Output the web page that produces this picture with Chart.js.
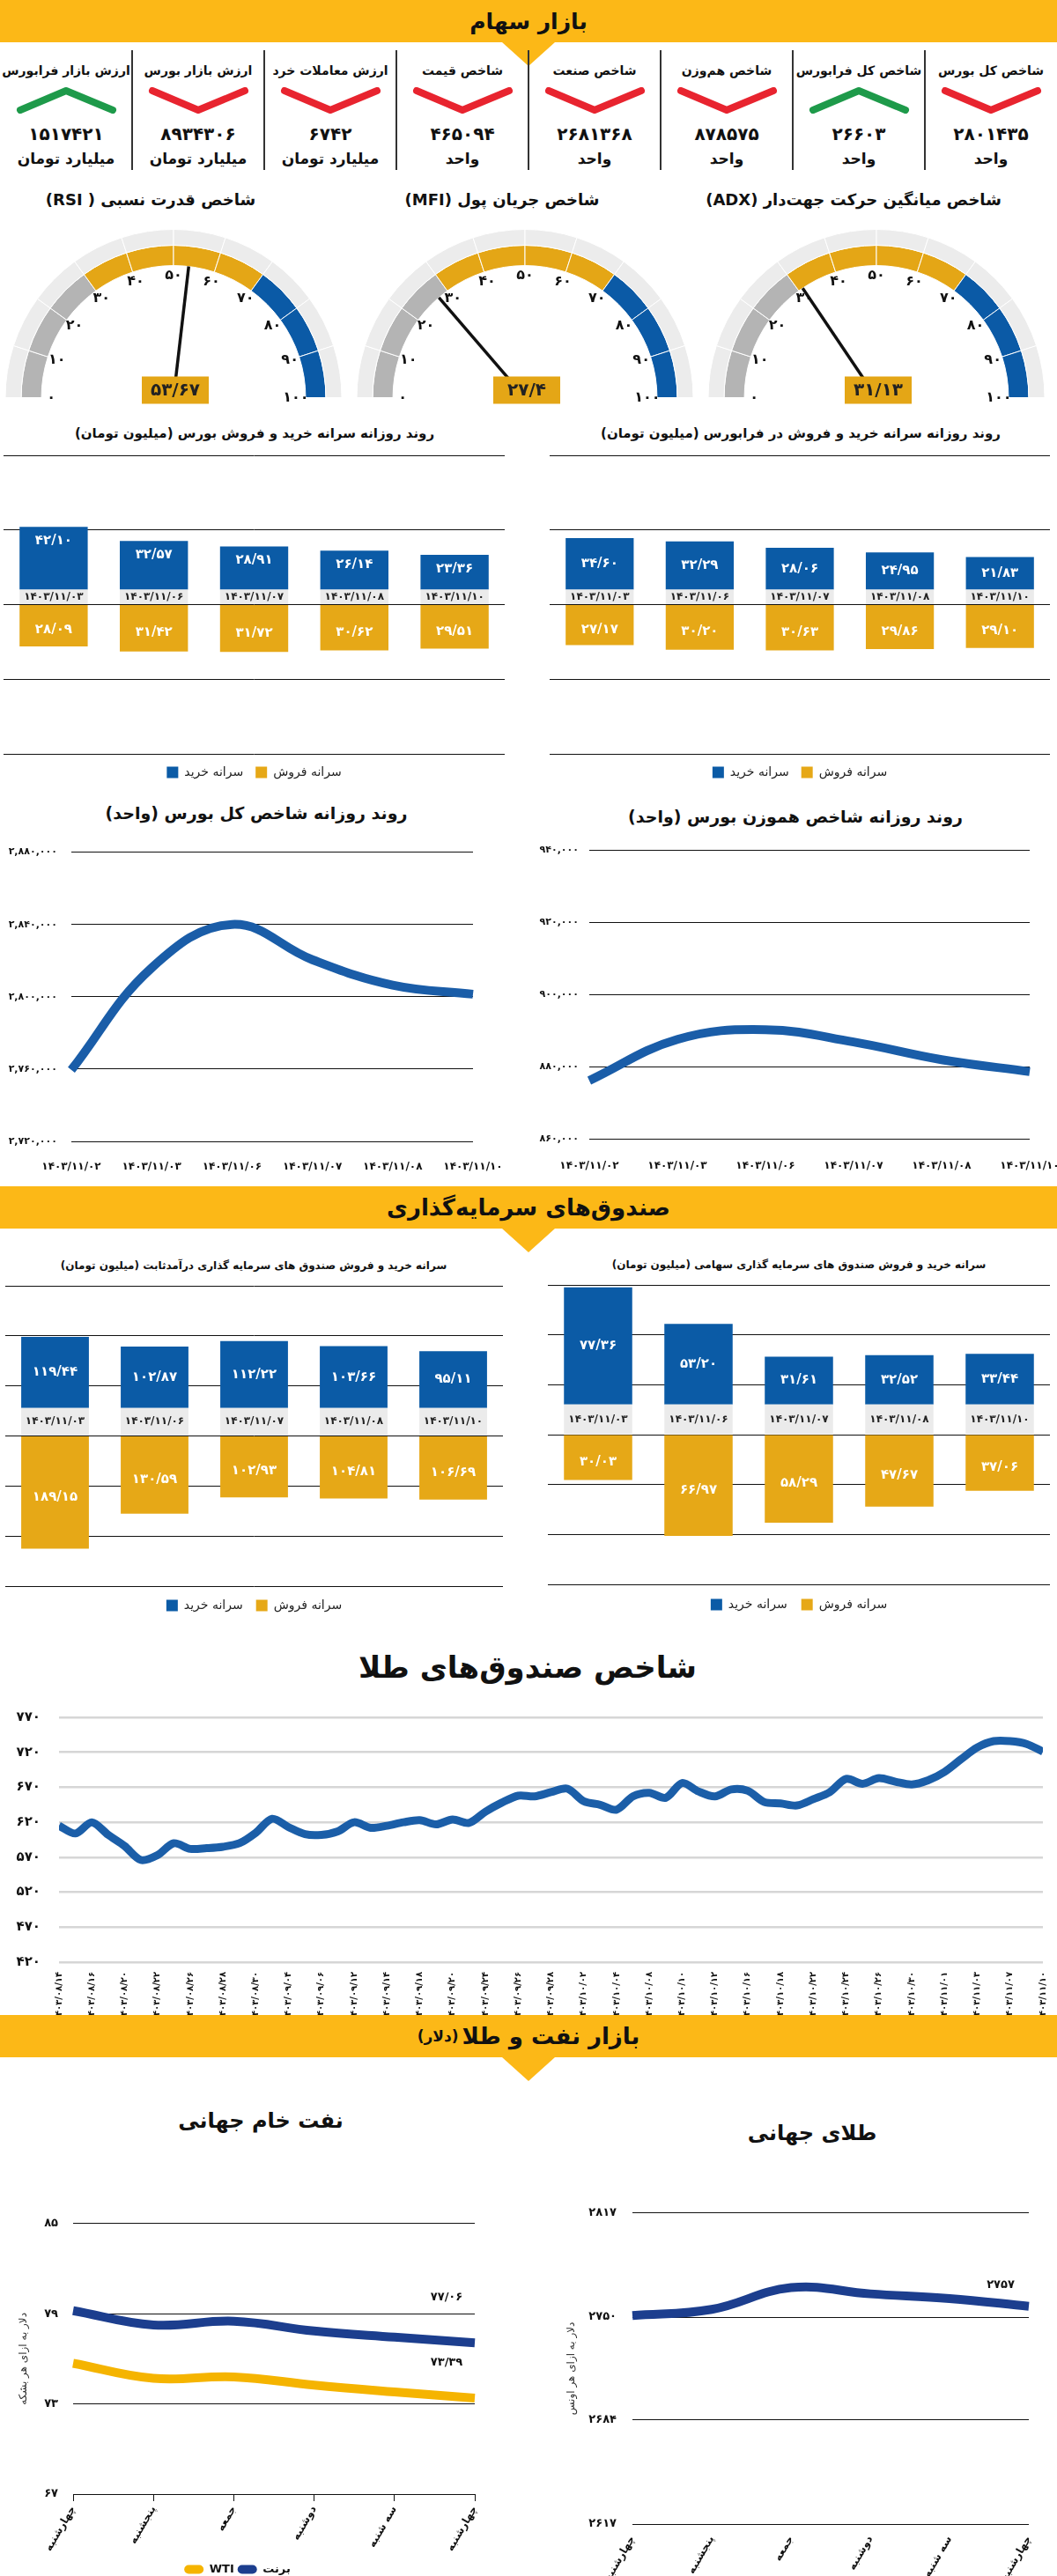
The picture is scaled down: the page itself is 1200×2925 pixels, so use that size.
<!DOCTYPE html>
<html lang="fa">
<head>
<meta charset="utf-8">
<title>بازار سهام</title>
<script src="https://cdn.jsdelivr.net/npm/chart.js@4.4.1/dist/chart.umd.min.js"></script>
<style>
body { margin: 0; background: #fff; }
#page { position: relative; width: 1200px; height: 2925px; overflow: hidden; font-family: 'DejaVu Sans', sans-serif; color: #111; }
.band { position: absolute; left: 0; width: 1200px; height: 48px; background: #fcb817; }
.band div { position: absolute; inset: 0; display: flex; align-items: center; justify-content: center; font-weight: bold; direction: rtl; white-space: nowrap; }
.notch { position: absolute; width: 0; height: 0; border-left: 30px solid transparent; border-right: 30px solid transparent; border-top: 27px solid #fcb817; }
.t { position: absolute; transform: translate(-50%, -50%); white-space: nowrap; direction: rtl; font-weight: bold; line-height: 1.2; }
.card { position: absolute; top: 57px; width: 150px; height: 136px; }
.card .c { position: absolute; left: 0; right: 0; text-align: center; transform: translateY(-50%); font-weight: bold; direction: rtl; white-space: nowrap; line-height: 1.2; }
.sep { position: absolute; top: 57px; width: 2px; height: 136px; background: #333; }
canvas { position: absolute; }
</style>
</head>
<body>
<div id="page"></div>
<script>
// ---- داده‌ها ----
const cardTitles = ['ارزش بازار فرابورس', 'ارزش بازار بورس', 'ارزش معاملات خرد', 'شاخص قیمت', 'شاخص صنعت', 'شاخص هم‌وزن', 'شاخص کل فرابورس', 'شاخص کل بورس'];
const cardValues = [1517421, 8934306, 6742, 465094, 2681368, 878575, 26603, 2801435];
const cardUnits = ['میلیارد تومان', 'میلیارد تومان', 'میلیارد تومان', 'واحد', 'واحد', 'واحد', 'واحد', 'واحد'];
const cardTrend = ['up', 'down', 'down', 'down', 'down', 'down', 'up', 'down'];

const gaugeNames = ['شاخص قدرت نسبی ( RSI)', 'شاخص جریان پول (MFI)', 'شاخص میانگین حرکت جهت‌دار (ADX)'];
const gaugeValues = [53.67, 27.4, 31.13];
const gaugeSegments = [10, 10, 10, 10, 10, 10, 10, 10, 10, 10];
const gaugeTicks = [0, 10, 20, 30, 40, 50, 60, 70, 80, 90, 100];

const tradeDates = ['1403/11/03', '1403/11/06', '1403/11/07', '1403/11/08', '1403/11/10'];
const bourseBuy = [42.10, 32.57, 28.91, 26.14, 23.36];
const bourseSell = [28.09, 31.42, 31.72, 30.62, 29.51];
const faraBuy = [34.60, 32.29, 28.06, 24.95, 21.83];
const faraSell = [27.17, 30.20, 30.63, 29.86, 29.10];
const fixedBuy = [119.44, 102.87, 112.22, 103.66, 95.11];
const fixedSell = [189.15, 130.59, 102.93, 104.81, 106.69];
const equityBuy = [77.36, 53.20, 31.61, 32.52, 33.44];
const equitySell = [30.03, 66.97, 58.29, 47.67, 37.06];

const indexDates = ['1403/11/02', '1403/11/03', '1403/11/06', '1403/11/07', '1403/11/08', '1403/11/10'];
const totalIndex = [2759500, 2816000, 2840000, 2820500, 2806400, 2801435];
const totalTicks = [2720000, 2760000, 2800000, 2840000, 2880000];
const equalIndex = [876100, 887500, 890200, 886800, 881900, 878575];
const equalTicks = [860000, 880000, 900000, 920000, 940000];

const goldFundDates = ['1403/08/14', '1403/08/16', '1403/08/20', '1403/08/22', '1403/08/26', '1403/08/28', '1403/08/30',
  '1403/09/04', '1403/09/06', '1403/09/12', '1403/09/14', '1403/09/18', '1403/09/20', '1403/09/24', '1403/09/26', '1403/09/28',
  '1403/10/02', '1403/10/04', '1403/10/08', '1403/10/10', '1403/10/12', '1403/10/16', '1403/10/18', '1403/10/22', '1403/10/24',
  '1403/10/26', '1403/10/30', '1403/11/01', '1403/11/03', '1403/11/07', '1403/11/10'];
const goldFundValues = [615, 604, 620, 602, 586, 566, 573, 590, 582, 583,
  585, 590, 605, 625, 613, 603, 602, 607, 620, 612,
  615, 620, 623, 617, 624, 619, 635, 648, 658, 657,
  663, 668, 650, 645, 638, 657, 662, 655, 676, 664,
  657, 667, 665, 649, 647, 644, 653, 663, 682, 675,
  683, 678, 674, 680, 692, 710, 727, 736, 736, 732, 721];
const goldFundTicks = [420, 470, 520, 570, 620, 670, 720, 770];

const weekDays = ['چهارشنبه', 'پنجشنبه', 'جمعه', 'دوشنبه', 'سه شنبه', 'چهارشنبه'];
const wti = [75.70, 74.70, 74.80, 74.25, 73.80, 73.39];
const brent = [79.20, 78.25, 78.50, 77.85, 77.44, 77.06];
const oilTicks = [67, 73, 79, 85];
const goldWorld = [2751, 2755, 2769, 2765, 2762, 2757];
const goldWorldTicks = [2617, 2684, 2750, 2817];

// ---- ابزار ----
const FONT = "'DejaVu Sans', sans-serif";
const BLUE = '#0b5ba6';
const GOLD = '#e6a817';
const NAVY = '#1c3e8e';
const faDigits = '۰۱۲۳۴۵۶۷۸۹';
const fa = s => String(s).replace(/[0-9]/g, d => faDigits[d]);
const faDec = v => fa(v.toFixed(2)).replace('.', '/');

Chart.defaults.font.family = FONT;
Chart.defaults.color = '#111';
Chart.defaults.animation = false;
Chart.defaults.responsive = false;
Chart.defaults.events = [];
Chart.defaults.plugins.tooltip.enabled = false;

const page = document.getElementById('page');

function addText(str, x, y, size) {
  const d = document.createElement('div');
  d.className = 't';
  d.style.left = x + 'px';
  d.style.top = y + 'px';
  d.style.fontSize = size + 'px';
  d.innerHTML = str;
  page.appendChild(d);
}

function addCanvas(left, top, w, h) {
  const c = document.createElement('canvas');
  c.width = w; c.height = h;
  c.style.left = left + 'px'; c.style.top = top + 'px';
  c.style.width = w + 'px'; c.style.height = h + 'px';
  page.appendChild(c);
  return c;
}

function band(top, html) {
  const b = document.createElement('div');
  b.className = 'band';
  b.style.top = top + 'px';
  b.innerHTML = `<div>${html}</div>`;
  page.appendChild(b);
  const n = document.createElement('div');
  n.className = 'notch';
  n.style.left = '570px';
  n.style.top = (top + 48) + 'px';
  page.appendChild(n);
}

// ---- سربرگ و کارت‌ها ----
band(0, '<span style="font-size:25px">بازار سهام</span>');

cardTitles.forEach((t, i) => {
  const up = cardTrend[i] === 'up';
  const pts = up ? '5,26 57,4 110,26' : '5,4 57,26 110,4';
  const col = up ? '#1e9a4a' : '#e8242f';
  const d = document.createElement('div');
  d.className = 'card';
  d.style.left = (i * 150) + 'px';
  d.innerHTML = `
    <div class="c" style="top:23px;font-size:14px">${t}</div>
    <svg width="115" height="30" style="position:absolute;left:18px;top:42px">
      <polyline points="${pts}" fill="none" stroke="${col}" stroke-width="8" stroke-linecap="round" stroke-linejoin="round"/>
    </svg>
    <div class="c" style="top:95px;font-size:20px">${fa(cardValues[i])}</div>
    <div class="c" style="top:123px;font-size:17px">${cardUnits[i]}</div>`;
  page.appendChild(d);
  if (i > 0) {
    const s = document.createElement('div');
    s.className = 'sep';
    s.style.left = (i * 150 - 1) + 'px';
    page.appendChild(s);
  }
});

// ---- گیج‌ها ----
const gaugeNeedle = {
  id: 'gaugeNeedle',
  afterDatasetsDraw(chart, args, opts) {
    const arc = chart.getDatasetMeta(1).data[0];
    const cx = arc.x, cy = arc.y, rIn = arc.innerRadius;
    const ctx = chart.ctx;
    ctx.save();
    ctx.font = `bold 16px ${FONT}`;
    ctx.fillStyle = '#111';
    ctx.textAlign = 'center';
    ctx.textBaseline = 'middle';
    gaugeTicks.forEach(t => {
      const a = Math.PI * (1 + t / 100);
      ctx.fillText(fa(t), cx + (rIn - 11) * Math.cos(a), cy + (rIn - 11) * Math.sin(a));
    });
    const a = Math.PI * (1 + opts.value / 100);
    ctx.strokeStyle = '#111';
    ctx.lineWidth = 3.5;
    ctx.beginPath();
    ctx.moveTo(cx + 20 * Math.cos(a), cy + 20 * Math.sin(a));
    ctx.lineTo(cx + rIn * Math.cos(a), cy + rIn * Math.sin(a));
    ctx.stroke();
    ctx.fillStyle = '#e4a616';
    ctx.fillRect(cx - 36, cy - 24, 76, 31);
    ctx.fillStyle = '#222';
    ctx.font = `bold 20px ${FONT}`;
    ctx.fillText(fa(String(opts.value)).replace('.', '/'), cx + 2, cy - 8);
    ctx.restore();
  }
};

const gaugeCenters = [197, 596, 995];
gaugeCenters.forEach((cx, i) => {
  addText(gaugeNames[i], cx - 26, 227, 18);
  const c = addCanvas(cx - 200, 246, 400, 220);
  new Chart(c, {
    type: 'doughnut',
    data: {
      datasets: [
        { data: gaugeSegments, backgroundColor: '#ececec', borderColor: '#fff', borderWidth: 1, weight: 18 },
        {
          data: gaugeSegments,
          backgroundColor: gaugeSegments.map((_, k) => k < 3 ? '#b4b4b4' : k < 7 ? '#e4a616' : '#0b5aa6'),
          borderColor: '#fff', borderWidth: 1, weight: 23
        }
      ]
    },
    options: {
      rotation: -90,
      circumference: 180,
      radius: 191,
      cutout: '78.5%',
      plugins: { legend: { display: false }, gaugeNeedle: { value: gaugeValues[i] } }
    },
    plugins: [gaugeNeedle]
  });
});

// ---- نمودارهای سرانه ----
const tradeLabels = {
  id: 'tradeLabels',
  afterDatasetsDraw(chart, args, opts) {
    const ctx = chart.ctx;
    const gap = chart.getDatasetMeta(0).data;
    const buy = chart.getDatasetMeta(1).data;
    const sell = chart.getDatasetMeta(2).data;
    const ds = chart.data.datasets;
    ctx.save();
    ctx.textAlign = 'center';
    ctx.textBaseline = 'middle';
    buy.forEach((b, i) => {
      ctx.fillStyle = '#fff';
      ctx.font = `bold ${opts.size}px ${FONT}`;
      const by = opts.buyAt === 'top' ? b.y + 16 : (b.y + b.base) / 2;
      ctx.fillText(faDec(ds[1].data[i]), b.x, by);
      const s = sell[i];
      ctx.fillText(faDec(-ds[2].data[i]), s.x, (s.y + s.base) / 2 + 5);
      const g = gap[i];
      ctx.fillStyle = '#222';
      ctx.font = `bold 12px ${FONT}`;
      ctx.fillText(fa(chart.data.labels[i]), g.x, (g.y + g.base) / 2);
    });
    ctx.restore();
  }
};

function tradeChart(left, top, w, h, pad, legendPad, buy, sell, gap, range, step, buyAt) {
  const c = addCanvas(left, top, w, h);
  return new Chart(c, {
    type: 'bar',
    data: {
      labels: tradeDates,
      datasets: [
        { label: 'gap', data: tradeDates.map(() => gap), backgroundColor: '#ebebeb' },
        { label: 'سرانه خرید', data: buy, backgroundColor: BLUE },
        { label: 'سرانه فروش', data: sell.map(v => -v), backgroundColor: GOLD }
      ]
    },
    options: {
      layout: { padding: pad },
      datasets: { bar: { barPercentage: 0.68, categoryPercentage: 1 } },
      scales: {
        x: { display: false, stacked: true },
        y: {
          stacked: true, min: -range, max: range,
          ticks: { display: false, stepSize: step },
          grid: { color: '#111', drawTicks: false },
          border: { display: false }
        }
      },
      plugins: {
        legend: {
          position: 'bottom',
          labels: {
            filter: it => it.datasetIndex > 0,
            boxWidth: 13, boxHeight: 13, padding: legendPad,
            font: { size: 14 }, color: '#222'
          }
        },
        tradeLabels: { buyAt, size: 15 }
      }
    },
    plugins: [tradeLabels]
  });
}

addText('روند روزانه سرانه خرید و فروش بورس (میلیون تومان)', 289, 492, 15);
addText('روند روزانه سرانه خرید و فروش در فرابورس (میلیون تومان)', 909, 492, 15);
tradeChart(0, 505, 600, 389, { top: 12, left: 4, right: 27, bottom: 0 }, 14, bourseBuy, bourseSell, 10, 100, 50, 'top');
tradeChart(600, 505, 600, 389, { top: 12, left: 24, right: 8, bottom: 0 }, 14, faraBuy, faraSell, 10, 100, 50, 'center');

// ---- شاخص کل و هم‌وزن ----
function indexChart(left, top, w, h, values, ticks, yW, xH, padTop, padRight, yPad, xPad) {
  const c = addCanvas(left, top, w, h);
  return new Chart(c, {
    type: 'line',
    data: {
      labels: indexDates.map(fa),
      datasets: [{ data: values, borderColor: '#1a5da8', borderWidth: 10, pointRadius: 0, tension: 0.4 }]
    },
    options: {
      layout: { padding: { top: padTop, right: padRight, left: 0, bottom: 0 } },
      plugins: { legend: { display: false } },
      scales: {
        x: {
          grid: { display: false }, border: { display: false },
          ticks: { font: { size: 12, weight: 'bold' }, padding: xPad, maxRotation: 0, autoSkip: false },
          afterFit: s => { s.height = xH; }
        },
        y: {
          min: ticks[0], max: ticks[ticks.length - 1],
          afterBuildTicks: s => { s.ticks = ticks.map(v => ({ value: v })); },
          grid: { color: '#111', drawTicks: false }, border: { display: false },
          ticks: { font: { size: 11, weight: 'bold' }, padding: yPad, callback: v => fa(v.toLocaleString('en-US')) },
          afterFit: s => { s.width = yW; }
        }
      }
    }
  });
}

addText('روند روزانه شاخص کل بورس (واحد)', 291, 923, 19);
addText('روند روزانه شاخص هموزن بورس (واحد)', 903, 927, 19);
indexChart(0, 945, 600, 390, totalIndex, totalTicks, 81, 39, 12, 63, 16, 14);
indexChart(600, 945, 620, 390, equalIndex, equalTicks, 69, 42, 20, 51, 12, 16);

// ---- صندوق‌های سرمایه‌گذاری ----
band(1347, '<span style="font-size:26px">صندوق‌های سرمایه‌گذاری</span>');
addText('سرانه خرید و فروش صندوق های سرمایه گذاری درآمدثابت (میلیون تومان)', 288, 1437, 12);
addText('سرانه خرید و فروش صندوق های سرمایه گذاری سهامی (میلیون تومان)', 907, 1436, 12);
tradeChart(0, 1448, 600, 392, { top: 12, left: 6, right: 29, bottom: 0 }, 15, fixedBuy, fixedSell, 47, 252, 84, 'center');
tradeChart(600, 1447, 600, 392, { top: 12, left: 22, right: 8, bottom: 0 }, 16, equityBuy, equitySell, 20, 99, 33, 'center');

// ---- شاخص صندوق‌های طلا ----
addText('شاخص صندوق‌های طلا', 599, 1893, 34);
(function () {
  const c = addCanvas(0, 1920, 1200, 368);
  new Chart(c, {
    type: 'line',
    data: {
      datasets: [{
        data: goldFundValues.map((v, i) => ({ x: i / 2, y: v })),
        borderColor: '#1b5ea8', borderWidth: 9, pointRadius: 0, tension: 0.3
      }]
    },
    options: {
      layout: { padding: { top: 12, right: 16, left: 0, bottom: 0 } },
      plugins: { legend: { display: false } },
      scales: {
        x: {
          type: 'linear', min: 0, max: goldFundDates.length - 1,
          afterBuildTicks: s => { s.ticks = goldFundDates.map((_, i) => ({ value: i })); },
          ticks: { callback: v => fa(goldFundDates[v]), minRotation: 90, maxRotation: 90, autoSkip: false, font: { size: 10, weight: 'bold' }, padding: 3 },
          grid: { display: false }, border: { display: false },
          afterFit: s => { s.height = 60; }
        },
        y: {
          min: goldFundTicks[0], max: goldFundTicks[goldFundTicks.length - 1],
          afterBuildTicks: s => { s.ticks = goldFundTicks.map(v => ({ value: v })); },
          grid: { color: '#d6d6d6', lineWidth: 2.5, drawTicks: false }, border: { display: false },
          ticks: { font: { size: 15, weight: 'bold' }, padding: 21, callback: v => fa(v) },
          afterFit: s => { s.width = 67; }
        }
      }
    }
  });
})();

// ---- نفت و طلا ----
band(2288, '<span style="font-size:26px">بازار نفت و طلا</span><span style="font-size:17px;margin-right:4px">(دلار)</span>');
addText('نفت خام جهانی', 296, 2408, 24);
addText('طلای جهانی', 922, 2422, 24);

const endLabel = {
  id: 'endLabel',
  afterDatasetsDraw(chart, args, opts) {
    const ctx = chart.ctx;
    ctx.save();
    ctx.font = `bold 13px ${FONT}`;
    ctx.fillStyle = '#111';
    ctx.textAlign = 'center';
    ctx.textBaseline = 'middle';
    chart.data.datasets.forEach((ds, i) => {
      const pts = chart.getDatasetMeta(i).data;
      const p = pts[pts.length - 1];
      ctx.fillText(opts.fmt(ds.data[ds.data.length - 1]), p.x - 32, p.y + opts.dy[i]);
    });
    ctx.restore();
  }
};

function dayAxis(h, withLine) {
  return {
    grid: { display: withLine, drawOnChartArea: false, drawTicks: true, tickLength: 8, color: '#111' },
    border: { display: withLine, color: '#111', width: 1 },
    ticks: { minRotation: 60, maxRotation: 60, autoSkip: false, font: { size: 12, weight: 'bold' }, padding: 3 },
    afterFit: s => { s.height = h; }
  };
}

function valueAxis(ticks, w, pad, title, titlePad) {
  return {
    min: ticks[0], max: ticks[ticks.length - 1],
    afterBuildTicks: s => { s.ticks = ticks.map(v => ({ value: v })); },
    grid: { color: '#111', drawTicks: false }, border: { display: false },
    ticks: { font: { size: 13, weight: 'bold' }, padding: pad, callback: v => fa(v) },
    title: { display: true, text: title, font: { size: 12 }, color: '#333', padding: { top: titlePad, bottom: 0 } },
    afterFit: s => { s.width = w; }
  };
}

(function () {
  const c = addCanvas(0, 2500, 600, 434);
  new Chart(c, {
    type: 'line',
    data: {
      labels: weekDays,
      datasets: [
        { label: 'WTI', data: wti, borderColor: '#f5b400', backgroundColor: '#f5b400', borderWidth: 10, pointRadius: 0, tension: 0.4 },
        { label: 'برنت', data: brent, borderColor: NAVY, backgroundColor: NAVY, borderWidth: 10, pointRadius: 0, tension: 0.4 }
      ]
    },
    options: {
      layout: { padding: { top: 23, right: 61, left: 0, bottom: 0 } },
      scales: { x: dayAxis(75, true), y: valueAxis(oilTicks, 83, 17, 'دلار به ازای هر بشکه', 20) },
      plugins: {
        legend: {
          position: 'bottom',
          labels: {
            boxWidth: 22, boxHeight: 10, padding: 4, useBorderRadius: true, borderRadius: 5,
            font: { size: 13, weight: 'bold' },
            generateLabels: ch => Chart.defaults.plugins.legend.labels.generateLabels(ch).map(l => ({ ...l, lineWidth: 0 }))
          }
        },
        endLabel: { fmt: faDec, dy: [-40, -52] }
      }
    },
    plugins: [endLabel]
  });
})();

(function () {
  const c = addCanvas(600, 2487, 600, 443);
  new Chart(c, {
    type: 'line',
    data: {
      labels: weekDays,
      datasets: [{ label: 'طلا', data: goldWorld, borderColor: NAVY, borderWidth: 10, pointRadius: 0, tension: 0.4 }]
    },
    options: {
      layout: { padding: { top: 21, right: 32, left: 0, bottom: 0 } },
      scales: { x: dayAxis(64, false), y: valueAxis(goldWorldTicks, 118, 18, 'دلار به ازای هر اونس', 42) },
      plugins: {
        legend: { display: false },
        endLabel: { fmt: v => fa(Math.round(v)), dy: [-24] }
      }
    },
    plugins: [endLabel]
  });
})();
</script>
</body>
</html>
